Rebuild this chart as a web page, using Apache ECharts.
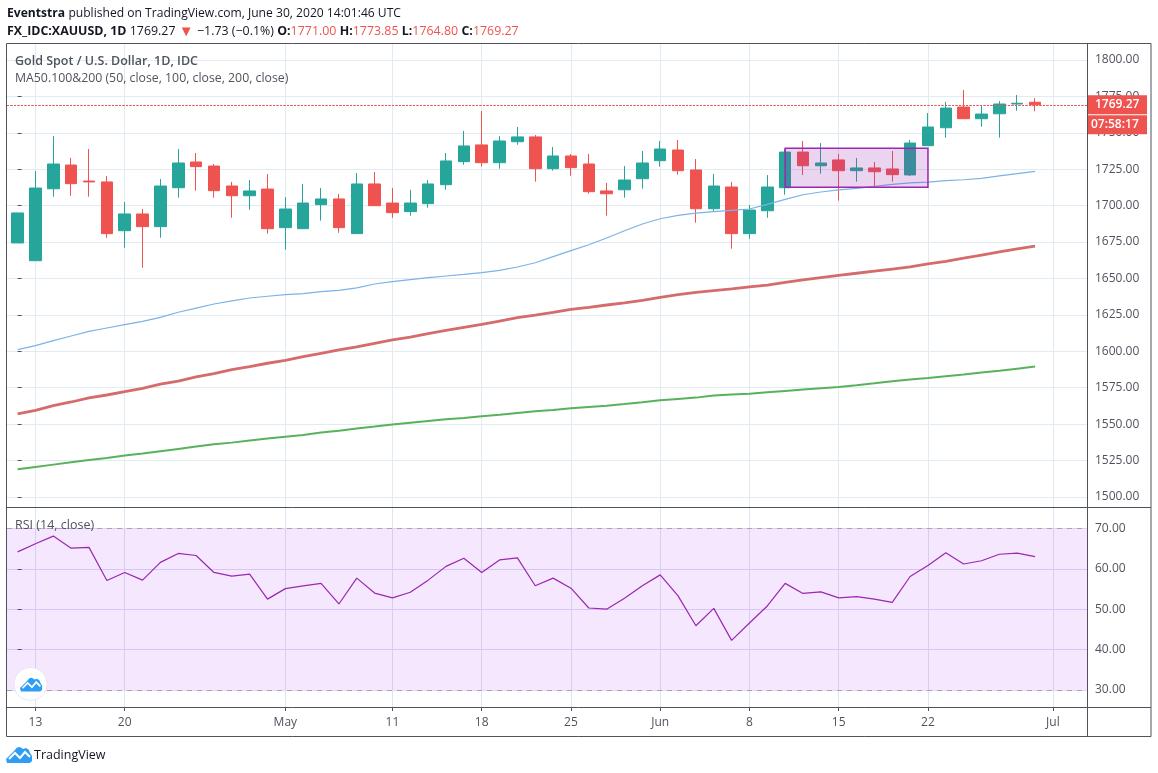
<!DOCTYPE html>
<html>
<head>
<meta charset="utf-8">
<style>html,body{margin:0;padding:0;background:#fff}#c{width:1158px;height:773px}</style>
<script src="https://cdn.jsdelivr.net/npm/echarts@6/dist/echarts.min.js"></script>
</head>
<body>
<div id="c"></div>
<script>
const opens = [1674.4,1662.2,1711.6,1727.9,1716.9,1716.3,1682.8,1694.3,1685.6,1712.3,1730.0,1727.2,1713.5,1706.8,1711.4,1684.9,1684.2,1700.7,1704.6,1680.8,1714.9,1701.8,1695.9,1701.4,1714.4,1730.2,1741.7,1729.5,1743.9,1747.2,1725.4,1734.1,1728.6,1710.1,1710.9,1718.5,1730.9,1738.2,1724.5,1697.9,1712.8,1680.8,1696.5,1712.3,1736.8,1727.4,1731.4,1724.0,1725.9,1725.2,1721.1,1741.2,1753.5,1767.7,1759.7,1763.1,1769.8,1771.00];
const closes = [1695.0,1712.1,1728.6,1715.1,1716.3,1680.8,1694.3,1685.6,1713.5,1729.3,1726.8,1710.3,1706.8,1710.1,1684.2,1697.7,1701.8,1704.6,1684.9,1714.9,1700.0,1695.2,1701.8,1714.9,1730.7,1741.0,1729.5,1744.4,1747.2,1725.4,1734.1,1726.1,1709.6,1708.2,1717.6,1729.3,1738.9,1724.0,1697.9,1713.5,1680.8,1697.0,1712.8,1736.8,1727.4,1729.3,1724.0,1725.9,1723.3,1721.3,1743.0,1754.0,1767.0,1759.7,1762.9,1769.8,1770.3,1769.27];
const lows = [1674.4,1662.2,1706.2,1706.8,1706.2,1678.0,1671.1,1657.4,1678.0,1705.5,1710.3,1705.5,1691.7,1697.2,1680.8,1669.8,1684.2,1689.7,1681.4,1680.8,1700.0,1691.7,1693.1,1698.6,1711.0,1728.1,1726.8,1725.4,1741.8,1716.5,1724.0,1720.6,1708.2,1693.1,1705.5,1711.7,1726.8,1721.3,1688.3,1696.5,1670.5,1677.3,1691.7,1707.5,1721.1,1721.9,1703.4,1716.5,1712.8,1716.5,1720.4,1741.2,1746.7,1759.7,1754.2,1746.7,1765.2,1764.80];
const highs = [1695.0,1723.8,1747.8,1732.7,1738.9,1720.4,1702.5,1697.7,1718.3,1738.9,1736.2,1728.6,1716.3,1717.6,1721.7,1705.9,1714.9,1712.1,1708.0,1722.4,1723.1,1712.1,1710.8,1717.6,1736.2,1751.3,1765.0,1747.8,1754.0,1748.5,1740.3,1735.5,1735.5,1715.6,1727.2,1737.5,1744.4,1745.1,1732.0,1721.7,1716.3,1700.5,1721.0,1738.9,1744.4,1743.0,1735.5,1732.7,1730.0,1737.5,1745.1,1763.6,1771.2,1779.4,1768.4,1771.8,1776.0,1773.85];
const ma50 = [1601.1,1603.9,1607.3,1610.5,1613.7,1616.0,1618.3,1620.6,1623.3,1626.8,1629.7,1632.5,1634.6,1636.6,1637.8,1638.9,1639.6,1641.0,1641.9,1643.5,1646.2,1647.8,1649.2,1650.6,1651.7,1652.8,1654.0,1655.6,1657.9,1660.8,1665.0,1669.1,1673.2,1677.8,1682.8,1687.4,1691.0,1693.3,1694.9,1695.9,1696.8,1697.7,1700.9,1704.3,1707.5,1709.4,1710.8,1711.9,1713.3,1714.6,1715.6,1716.2,1717.2,1717.8,1718.8,1720.4,1722.0,1723.6];
const ma100 = [1557.0,1559.5,1562.7,1565.2,1568.0,1570.0,1572.3,1574.6,1577.4,1579.6,1582.4,1584.7,1587.4,1589.5,1591.8,1593.8,1596.3,1598.6,1600.9,1603.1,1605.5,1607.8,1609.8,1612.1,1614.4,1616.5,1618.5,1620.8,1623.1,1624.9,1626.8,1628.8,1630.2,1631.8,1633.2,1635.0,1637.0,1638.9,1640.5,1641.7,1642.8,1644.2,1645.5,1647.4,1649.0,1650.6,1652.2,1653.6,1655.1,1656.5,1657.9,1660.0,1661.8,1663.9,1666.1,1668.2,1670.3,1672.3];
const ma200 = [1519.0,1520.6,1522.2,1523.8,1525.4,1526.8,1528.4,1529.8,1531.4,1533.0,1534.6,1536.2,1537.3,1538.7,1540.1,1541.4,1542.6,1544.2,1545.5,1547.0,1548.3,1549.7,1551.0,1552.2,1553.3,1554.2,1555.4,1556.5,1557.7,1558.8,1559.7,1560.9,1561.8,1562.7,1563.8,1565.0,1566.4,1567.3,1568.2,1569.6,1570.3,1570.9,1571.9,1572.8,1573.7,1574.6,1575.5,1576.7,1578.0,1579.4,1580.6,1581.7,1582.9,1584.0,1585.4,1586.7,1588.1,1589.5];
const rsi = [64.2,66.2,68.1,65.1,65.3,57.1,59.1,57.2,61.6,63.8,63.3,59.1,58.2,58.7,52.5,55.1,55.8,56.4,51.3,57.7,54.0,52.8,54.2,57.2,60.6,62.6,59.1,62.2,62.7,55.8,57.7,55.2,50.3,50.0,52.7,55.8,58.5,53.3,45.9,50.2,42.3,46.6,50.8,56.4,53.9,54.3,52.8,53.1,52.5,51.7,58.1,60.8,64.0,61.2,62.0,63.6,63.9,63.0];
const timeTickSlots = [1,6,15,21,26,31,36,41,46,51,58];
const timeTickLabels = ['13','20','May','11','18','25','Jun','8','15','22','Jul'];
const priceTicks = [1500,1525,1550,1575,1600,1625,1650,1675,1700,1725,1750,1775,1800];
const rsiTicks = [30,40,50,60,70];
const lastPrice = 1769.27;
const countdown = '07:58:17';
const boxSlots = [43,51];
const boxPrices = [1739.4,1712.6];

const UP='#26a69a', DOWN='#ef5350', GRID='#e1ecf2', AXIS='#50535e';
const FONT='"Open Sans", sans-serif';
const xRange={min:-0.594,max:59.91};
const labelOf=v=>timeTickLabels[timeTickSlots.indexOf(v)]||'';
const chart=echarts.init(document.getElementById('c'),null,{renderer:'canvas'});

function xAxis(gridIndex,showLabel,color){
  return {type:'value',gridIndex,...xRange,
    axisLine:{show:false},
    axisTick:{show:showLabel,customValues:timeTickSlots,length:4,lineStyle:{color:AXIS}},
    axisLabel:{show:showLabel,customValues:timeTickSlots,formatter:labelOf,color:AXIS,fontSize:12,fontFamily:FONT,margin:10,hideOverlap:false},
    splitLine:{show:true,lineStyle:{color,width:1}}};
}
function yAxis(gridIndex,min,max,ticks,color){
  return {type:'value',gridIndex,position:'right',min,max,scale:true,
    axisLine:{show:false},
    axisTick:{show:true,customValues:ticks,length:4,lineStyle:{color:AXIS}},
    axisLabel:{customValues:ticks,formatter:v=>v.toFixed(2),color:AXIS,fontSize:12,fontFamily:FONT,margin:8,padding:[3,0,0,0]},
    splitLine:{show:true,lineStyle:{color,width:1}}};
}
const maLine=(name,data,color,width)=>({name,type:'line',xAxisIndex:0,yAxisIndex:0,z:3,silent:true,
  data:data.map((v,i)=>[i,v]),showSymbol:false,symbol:'none',lineStyle:{color,width}});
const tag=(text,offsetY,pad)=>({yAxis:lastPrice,
  label:{show:true,position:'end',distance:0,formatter:text,offset:[0,offsetY],color:'#fff',backgroundColor:DOWN,
    fontFamily:FONT,fontSize:12,fontWeight:600,width:60-pad,height:19,lineHeight:19,padding:[0,0,0,pad],align:'left',verticalAlign:'middle'}});

const hdrRich=s=>({b:{fontFamily:FONT,fontSize:s,fontWeight:'bold',fill:'#131722'},
  n:{fontFamily:FONT,fontSize:s,fill:'#131722'},
  r:{fontFamily:FONT,fontSize:s,fill:DOWN},
  t:{fontFamily:FONT,fontSize:15,fill:DOWN}});
const cloud=[[1,17],[0,13],[3,10],[8,5],[11,1.5],[14,1],[17,3],[20,2],[23,4],[24,7],[26,10],[26,15],[24,17]];
const zig=[[3,13],[9,7],[14,12],[19,6],[24,11]];
const logo=(x,y,s)=>({type:'group',x,y,scaleX:s,scaleY:s,z:60,children:[
  {type:'polygon',z:60,shape:{points:cloud},style:{fill:'#2e9ef4'}},
  {type:'polyline',z:61,shape:{points:zig},style:{stroke:'#fff',lineWidth:2,fill:null}}]});
const frame=(x1,y1,x2,y2)=>({type:'line',z:50,shape:{x1,y1,x2,y2},style:{stroke:AXIS,lineWidth:1}});

chart.setOption({
  animation:false,
  grid:[{left:7,right:71,top:44,height:463},{left:7,right:71,top:507,height:200}],
  xAxis:[xAxis(0,false,GRID),xAxis(1,true,'#dbe6f2')],
  yAxis:[yAxis(0,1493.1,1811,priceTicks,GRID),yAxis(1,25.8,75.3,rsiTicks,'#dcdcf4')],
  series:[
    maLine('MA200',ma200,'#58b25c',2),
    maLine('MA100',ma100,'#d66b6b',2.8),
    maLine('MA50',ma50,'#7cb2e8',1.2),
    {name:'XAUUSD',type:'candlestick',xAxisIndex:0,yAxisIndex:0,z:2,silent:true,
      encode:{x:0,y:[1,2,3,4]},barWidth:12,
      data:opens.map((o,i)=>[i,o,closes[i],lows[i],highs[i]]),
      itemStyle:{color:UP,color0:DOWN,borderColor:UP,borderColor0:DOWN,borderWidth:1},
      markLine:{silent:true,symbol:'none',animation:false,
        lineStyle:{color:DOWN,type:[2,1.5],width:1},
        data:[tag('1769.27',0,8),tag(countdown,20,4)]}},
    {name:'Box',type:'line',xAxisIndex:0,yAxisIndex:0,z:6,silent:true,data:[],
      markArea:{silent:true,z:10,animation:false,
        itemStyle:{color:'rgba(156,39,176,0.2)',borderColor:'#9c27b0',borderWidth:1.5},
        data:[[{coord:[boxSlots[0],boxPrices[0]]},{coord:[boxSlots[1],boxPrices[1]]}]]}},
    {name:'RSI',type:'line',xAxisIndex:1,yAxisIndex:1,z:3,silent:true,
      data:rsi.map((v,i)=>[i,v]),symbol:'none',showSymbol:false,lineStyle:{color:'#9c27b0',width:1.2},
      markArea:{silent:true,animation:false,itemStyle:{color:'rgba(150,20,245,0.1)'},
        data:[[{yAxis:70},{yAxis:30}]]},
      markLine:{silent:true,symbol:'none',animation:false,label:{show:false},
        lineStyle:{color:'#a9a2b0',type:[5,5],width:1},
        data:[{yAxis:70},{yAxis:30}]}}
  ],
  graphic:[
    {type:'rect',z:49,shape:{x:6.5,y:43.5,width:1144.5,height:693},style:{fill:null,stroke:AXIS,lineWidth:1}},
    frame(6.5,507.5,1151,507.5),frame(6.5,707.5,1151,707.5),frame(1087.5,43.5,1087.5,736.5),
    {type:'text',x:7,y:8,z:60,style:{text:'{b|Eventstra} {n|published on TradingView.com, June 30, 2020 14:01:46 UTC}',rich:hdrRich(12.1)}},
    {type:'text',x:7,y:24,z:60,style:{text:'{b|FX_IDC:XAUUSD, 1D} {n|1769.27} {t|▼} {n|−1.73 (−0.1%)} {b|O:}{r|1771.00} {b|H:}{r|1773.85} {b|L:}{r|1764.80} {b|C:}{r|1769.27}',rich:hdrRich(12.4)}},
    {type:'text',x:15,y:55,z:60,style:{text:'Gold Spot / U.S. Dollar, 1D, IDC',font:'600 12.5px '+FONT,fill:AXIS}},
    {type:'text',x:15,y:72,z:60,style:{text:'MA50.100&200 (50, close, 100, close, 200, close)',font:'12.3px '+FONT,fill:AXIS}},
    {type:'text',x:15,y:519,z:60,style:{text:'RSI (14, close)',font:'12.5px '+FONT,fill:AXIS}},
    {type:'circle',z:58,shape:{cx:30.5,cy:684,r:16.5},style:{fill:'#fff',stroke:'#ebe4ef',lineWidth:1}},
    logo(20,677,0.85),
    logo(6,746,1),
    {type:'text',x:34,y:748.5,z:60,style:{text:'TradingView',font:'12.5px '+FONT,fill:'#131722'}}
  ]
});
</script>
</body>
</html>
